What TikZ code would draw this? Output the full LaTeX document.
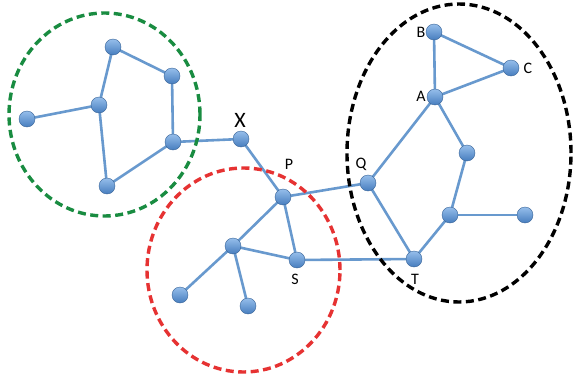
\documentclass[tikz,border=0pt]{standalone}
\usepackage{fontspec}
\setmainfont{Carlito}
\usetikzlibrary{backgrounds}
\definecolor{edgeblue}{RGB}{104,153,206}
\definecolor{balltop}{RGB}{150,190,235}
\definecolor{ballbot}{RGB}{70,125,190}
\definecolor{grp green}{RGB}{25,140,65}
\definecolor{grp red}{RGB}{230,50,50}
\begin{document}
\begin{tikzpicture}[x=1pt,y=-1pt,
  vtx/.style={circle,minimum size=16pt,inner sep=0pt,top color=balltop,bottom color=ballbot,draw=ballbot!80!black,line width=0.4pt},
  edge/.style={draw=edgeblue,line width=2.6pt},
  grp/.style={line width=3.4pt,dash pattern=on 8pt off 4.5pt},
  lbl/.style={font=\fontsize{16}{16}\selectfont,inner sep=0pt}]
\useasboundingbox (0,0) rectangle (574,383);
% vertices
\node[vtx] (g1) at (113,47) {};
\node[vtx] (g2) at (172,76) {};
\node[vtx] (g3) at (99,105) {};
\node[vtx] (g4) at (27,119) {};
\node[vtx] (g5) at (173,142) {};
\node[vtx] (g6) at (107,186) {};
\node[vtx] (X) at (241,139) {};
\node[vtx] (P) at (283,197) {};
\node[vtx] (Q) at (368,183) {};
\node[vtx] (A) at (435,97) {};
\node[vtx] (B) at (434,32) {};
\node[vtx] (C) at (511,68) {};
\node[vtx] (n1) at (467,153) {};
\node[vtx] (n2) at (450,215) {};
\node[vtx] (n3) at (525,215) {};
\node[vtx] (T) at (414,259) {};
\node[vtx] (S) at (297,260) {};
\node[vtx] (r1) at (233,246) {};
\node[vtx] (r2) at (180,295) {};
\node[vtx] (r3) at (248,306) {};
\begin{pgfonlayer}{background}
\fill[white] (0,0) rectangle (574,383);
% edges
\foreach \a/\b in {g1/g2,g2/g5,g1/g3,g3/g4,g3/g6,g6/g5,g5/X,X/P,P/Q,P/r1,P/S,r1/S,r1/r2,r1/r3,S/T,Q/T,Q/A,A/B,B/C,A/C,A/n1,n1/n2,n2/n3,n2/T}
  \draw[edge] (\a.center) -- (\b.center);
% groups
\draw[grp,draw=grp green] (104.5,114.5) ellipse [x radius=95.5pt,y radius=101.5pt];
\draw[grp,draw=grp red] (243.5,270) ellipse [x radius=96.5pt,y radius=102pt];
\draw[grp,draw=black] (459,153) ellipse [x radius=112pt,y radius=149pt];
\end{pgfonlayer}
% labels
\node[lbl,font=\fontsize{22}{22}\selectfont] (lX) at (240,120) {X};
\node[lbl] (lP) at (289,164) {P};
\node[lbl] (lQ) at (361,164) {Q};
\node[lbl] (lA) at (421,96) {A};
\node[lbl] (lB) at (421,32) {B};
\node[lbl] (lC) at (528,68) {C};
\node[lbl] (lS) at (295,279) {S};
\node[lbl] (lT) at (415,279) {T};
\end{tikzpicture}
\end{document}
